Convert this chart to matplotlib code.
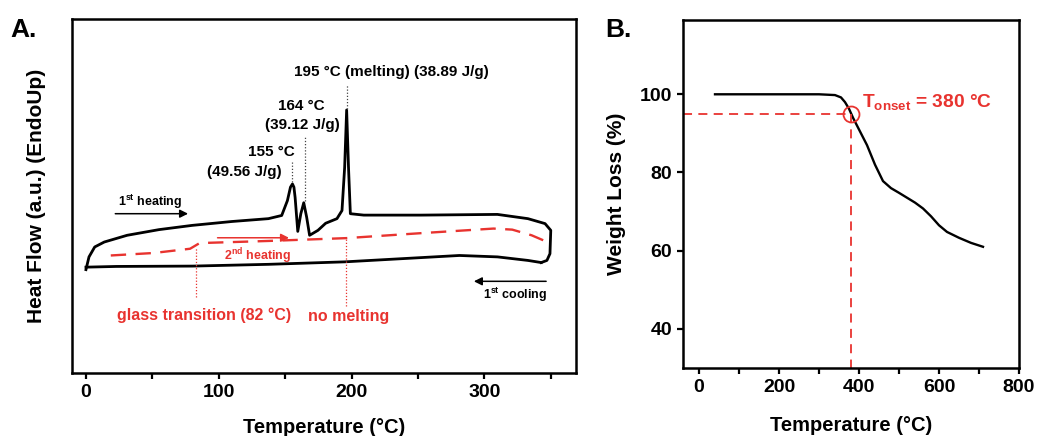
import matplotlib
matplotlib.use("Agg")
import matplotlib.pyplot as plt
from matplotlib.ticker import MultipleLocator, NullLocator

plt.rcParams['font.family'] = ['Liberation Sans', 'DejaVu Sans']
plt.rcParams['font.weight'] = 'bold'
plt.rcParams['mathtext.fontset'] = 'custom'
plt.rcParams['mathtext.rm'] = 'Liberation Sans:bold'
plt.rcParams['mathtext.bf'] = 'Liberation Sans:bold'
plt.rcParams['mathtext.it'] = 'Liberation Sans:bold'

RED = '#e8332f'

# ---------------- Panel A data (DSC, arbitrary heat-flow units) ----------------
heat1_T = [0, 2.3, 6.6, 13.8, 31, 55, 80, 110, 137.4, 147.4, 151.7, 154, 155.5, 156.6, 157.5,
           159.5, 161.8, 164, 166.2, 168.4, 174.7, 180.5, 189, 192.8, 194.8, 196.3, 197.7,
           199.1, 209.2, 252.3, 309.8, 332.8, 345.7, 350, 349.4, 347.1, 342.8]
heat1_Q = [29.2, 32.8, 35.6, 37.0, 38.9, 40.5, 41.7, 42.8, 43.6, 44.5, 48.7, 52.5, 53.4, 52.5, 49.6,
           40.0, 45.0, 48.1, 44.0, 38.9, 40.3, 42.3, 43.6, 45.9, 58.1, 74.3, 58.1,
           45.0, 44.6, 44.6, 44.8, 43.6, 42.2, 40.3, 33.7, 31.8, 31.2]

cool1_T = [342.8, 332.8, 309.9, 281.2, 252.5, 195, 137.6, 80.2, 22.8, 0]
cool1_Q = [31.2, 31.8, 32.8, 33.2, 32.6, 31.4, 30.7, 30.2, 30.1, 29.9]

heat2_T = [18.7, 51, 78.4, 85.6, 137.3, 196, 252.2, 306.9, 321, 335.6, 344.3]
heat2_Q = [33.2, 33.9, 35.1, 36.7, 37.3, 38.1, 39.5, 40.8, 40.5, 38.9, 37.5]

# ---------------- Panel B data (TGA) ----------------
tga_T = [40, 100, 200, 300, 340, 355, 365, 375, 385, 400, 420, 440, 460, 480, 500,
         540, 560, 580, 600, 620, 650, 680, 710]
tga_W = [100, 100, 100, 100, 99.8, 99.2, 98.0, 96.3, 94.0, 91.0, 87.0, 82.0, 77.8, 76.0, 74.8,
         72.3, 70.8, 68.8, 66.5, 64.8, 63.3, 62.0, 61.0]
onset_T = 380
onset_W = 95

fig = plt.figure(figsize=(10.39, 4.36), dpi=100)

# ======================= Panel A =======================
axA = fig.add_axes([72/1039, 1-373/436, (576-72)/1039, (373-19)/436])
axA.plot(heat1_T, heat1_Q, color='black', lw=2.0, solid_joinstyle='round')
axA.plot(cool1_T, cool1_Q, color='black', lw=2.0, solid_joinstyle='round')
axA.plot(heat2_T, heat2_Q, color=RED, lw=1.7, dashes=(6.5, 4))
axA.set_xlim(-10.5, 369)
axA.set_ylim(0, 100)
axA.xaxis.set_major_locator(MultipleLocator(100))
axA.xaxis.set_minor_locator(MultipleLocator(50))
axA.yaxis.set_major_locator(NullLocator())
axA.tick_params(axis='x', which='both', direction='out', width=1.6, length=4, labelsize=14, pad=4)
for s in axA.spines.values():
    s.set_linewidth(1.8)
axA.set_xlabel('Temperature (°C)', fontsize=14.5, fontweight='bold', labelpad=12)
axA.set_ylabel('Heat Flow (a.u.) (EndoUp)', fontsize=15, fontweight='bold', labelpad=19)

# annotations (black)
axA.text(230, 85, '195 °C (melting) (38.89 J/g)', fontsize=11, ha='center', va='center')
axA.text(162, 75.5, '164 °C', fontsize=11, ha='center', va='center')
axA.text(162.6, 70, '(39.12 J/g)', fontsize=11, ha='center', va='center')
axA.text(140, 62.5, '155 °C', fontsize=11, ha='center', va='center')
axA.text(119, 56.9, '(49.56 J/g)', fontsize=11, ha='center', va='center')
axA.plot([155.2, 155.2], [54, 60], color='#444444', lw=0.9, ls=(0, (1, 1.5)))
axA.plot([164.6, 164.6], [48.5, 67], color='#444444', lw=0.9, ls=(0, (1, 1.5)))
axA.plot([196.2, 196.2], [74.5, 81.5], color='#444444', lw=0.9, ls=(0, (1, 1.5)))

axA.annotate('', xy=(79, 45), xytext=(20, 45),
             arrowprops=dict(arrowstyle='-|>', color='black', lw=1.1, mutation_scale=12))
axA.text(24, 48.3, r'1$^{\rm st}$ heating', fontsize=9, ha='left', va='center')

axA.annotate('', xy=(290, 25.9), xytext=(348.6, 25.9),
             arrowprops=dict(arrowstyle='-|>', color='black', lw=1.1, mutation_scale=12))
axA.text(299, 22, r'1$^{\rm st}$ cooling', fontsize=9, ha='left', va='center')

# annotations (red)
axA.annotate('', xy=(155, 38.2), xytext=(97, 38.2),
             arrowprops=dict(arrowstyle='-|>', color=RED, lw=1.1, mutation_scale=12))
axA.text(103.6, 33, r'2$^{\rm nd}$ heating', fontsize=9, ha='left', va='center', color=RED)
axA.plot([82.8, 82.8], [21.5, 35.2], color=RED, lw=0.9, ls=(0, (1, 1.5)))
axA.plot([196, 196], [19, 38], color=RED, lw=0.9, ls=(0, (1, 1.5)))
axA.text(89, 16.3, 'glass transition (82 °C)', fontsize=11.5, ha='center', va='center', color=RED)
axA.text(198, 16.0, 'no melting', fontsize=11.5, ha='center', va='center', color=RED)

fig.text(10/1039, 1-37/436, 'A.', fontsize=19, fontweight='bold', va='baseline')

# ======================= Panel B =======================
axB = fig.add_axes([683/1039, 1-368/436, (1019-683)/1039, (368-20)/436])
axB.plot(tga_T, tga_W, color='black', lw=1.7)
axB.set_xlim(-40, 800)
axB.set_ylim(30, 119)
axB.plot([-40, onset_T], [onset_W, onset_W], color=RED, lw=1.3, dashes=(5, 3.5))
axB.plot([onset_T, onset_T], [onset_W, 30], color=RED, lw=1.3, dashes=(5, 3.5))
axB.plot([onset_T], [onset_W], marker='o', markersize=11.5, mfc='none', mec=RED, mew=1.3)
axB.text(407, 96.8, r'T$_{\rm onset}$ = 380 °C', fontsize=13.8, color=RED, ha='left', va='baseline')
axB.xaxis.set_major_locator(MultipleLocator(200))
axB.xaxis.set_minor_locator(MultipleLocator(100))
axB.set_yticks([40, 60, 80, 100])
axB.tick_params(axis='both', which='both', direction='out', width=1.6, length=4, labelsize=14, pad=4)
for s in axB.spines.values():
    s.set_linewidth(1.8)
axB.set_xlabel('Temperature (°C)', fontsize=14.5, fontweight='bold', labelpad=14)
axB.set_ylabel('Weight Loss (%)', fontsize=15, fontweight='bold', labelpad=10)

fig.text(605/1039, 1-37/436, 'B.', fontsize=19, fontweight='bold', va='baseline')

fig.savefig('out.png', dpi=100)
